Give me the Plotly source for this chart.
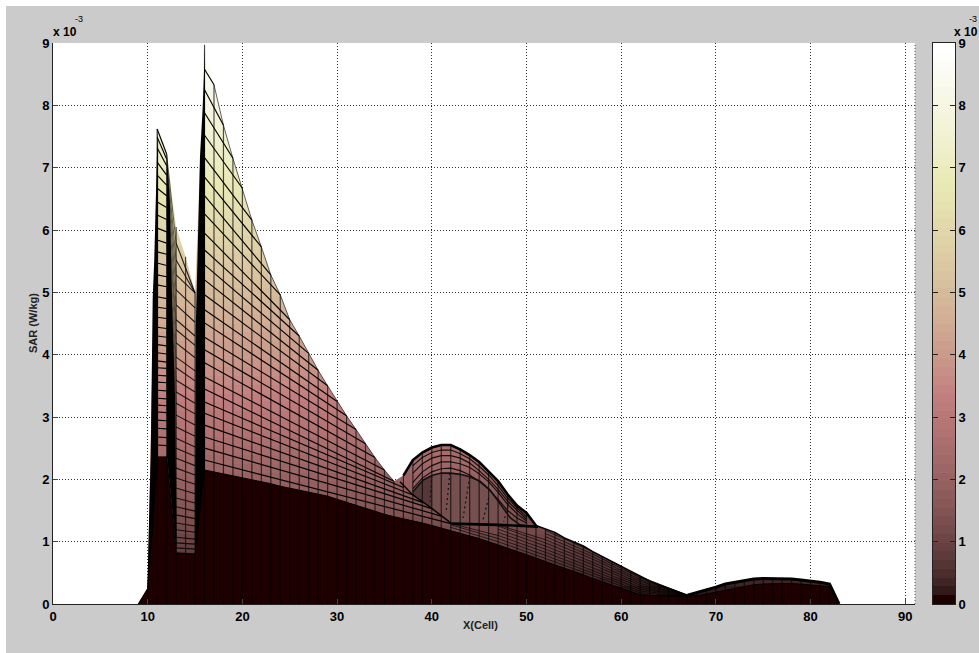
import numpy as np
import plotly.graph_objects as go

# ---- data (SAR in units of 1e-3 W/kg) ----
cells = list(range(9, 84))
top_by_cell = [0, .25, 7.62, 7.22, 6.05, 5.57, 4.99, 8.97, 8.33, 7.68, 7.15, 6.67, 6.16, 5.73, 5.28, 4.96, 4.56,
               4.30, 4.02, 3.75, 3.50, 3.25, 3.02, 2.80, 2.57, 2.35, 2.15, 1.97, 2.06, 2.31, 2.43, 2.51, 2.55,
               2.55, 2.48, 2.39, 2.28, 2.13, 1.97, 1.76, 1.58, 1.46, 1.26, 1.20, 1.15, 1.06, 1.00, .93, .84, .76,
               .68, .60, .52, .44, .37, .31, .25, .19, .14, .18, .22, .27, .32, .35, .38, .40, .41, .41, .41,
               .40, .385, .37, .35, .32, 0]
base_by_cell = [0, .25, 2.36, 2.36, .81, .80, .80, 2.15, 2.12, 2.09, 2.05, 2.02, 1.99, 1.96, 1.93, 1.89, 1.86,
                1.83, 1.80, 1.76, 1.73, 1.68, 1.63, 1.58, 1.53, 1.48, 1.44, 1.40, 1.37, 1.33, 1.30, 1.26, 1.22,
                1.18, 1.14, 1.09, 1.05, 1.00, .95, .90, .85, .79, .74, .68, .63, .57, .52, .47, .41, .36, .31,
                .26, .20, .15, .14, .13, .13, .12, .12, .13, .16, .19, .23, .26, .29, .31, .32, .33, .33, .33,
                .32, .31, .30, .28, 0]

# mesh rows of the large lobe: value at cell 16, then where each row meets the outline
lobe_start = [8.58, 8.25, 7.88, 7.52, 7.16, 6.85, 6.55, 6.26, 5.95, 5.68, 5.44, 5.20, 4.96, 4.72, 4.51, 4.28,
              4.08, 3.87, 3.64, 3.45, 3.24, 3.06, 2.87, 2.68, 2.50, 2.31]
lobe_end_cell = list(range(17, 43))
lobe_end = [8.33, 7.68, 7.15, 6.67, 6.16, 5.73, 5.28, 4.96, 4.56, 4.30, 4.02, 3.75, 3.50, 3.25, 3.02, 2.80, 2.57,
            2.35, 2.15, 1.97, 1.87, 1.75, 1.63, 1.53, 1.41, 1.29]

# mesh rows of the small lobe, at cells 11 and 12
small_11 = [7.62, 7.49, 7.32, 7.09, 6.88, 6.67, 6.45, 6.24, 6.03, 5.84, 5.65, 5.47, 5.28, 5.12, 4.93, 4.76, 4.60,
            4.44, 4.30, 4.16, 4.03, 3.90, 3.79, 3.67, 3.56, 3.43, 3.30, 3.19, 3.08, 2.95, 2.82, 2.68, 2.55]
small_12 = [7.22, 7.14, 7.03, 6.88, 6.72, 6.55, 6.36, 6.17, 5.97, 5.79, 5.61, 5.43, 5.25, 5.09, 4.90, 4.74, 4.58,
            4.42, 4.28, 4.14, 4.01, 3.88, 3.78, 3.66, 3.55, 3.42, 3.29, 3.18, 3.07, 2.94, 2.81, 2.67, 2.54]
# trough rows, at cells 13 and 15
trough_13 = [5.79, 5.52, 5.28, 5.04, 4.80, 4.56, 4.40, 4.19, 3.96, 3.79, 3.59, 3.40, 3.22, 3.03, 2.84, 2.66, 2.50,
             2.34, 2.18, 2.02, 1.86, 1.70, 1.56, 1.43, 1.30, 1.19, 1.07, .98, .90, .82]
trough_15 = [4.99, 4.99, 4.99, 4.75, 4.52, 4.30, 4.15, 3.95, 3.74, 3.58, 3.40, 3.22, 3.05, 2.87, 2.69, 2.52, 2.37,
             2.22, 2.07, 1.92, 1.77, 1.62, 1.49, 1.37, 1.25, 1.15, 1.04, .96, .88, .80]

# thin rows under the hump
tail_cells = [42, 47, 52, 57, 62, 67]
tail_1 = [1.23, 1.00, .73, .46, .18, .12]
tail_2 = [1.27, 1.05, .78, .50, .21, .125]
tail_3 = [1.29, 1.10, .83, .54, .24, .13]
tail_4 = [None, 1.15, .88, .58, .27, .13]
tail_5 = [None, 1.20, .93, .63, .30, .135]
tail_6 = [None, 1.25, .98, .67, .33, .135]
tail_7 = [None, 1.27, 1.03, .72, .36, .14]
tail_8 = [None, None, 1.08, .76, .39, .14]
tail_9 = [None, None, 1.13, .80, .42, .14]
tail_10 = [None, None, 1.18, .84, .44, .14]

# the hump near cell 42
hump_cells = [38, 39, 40, 41, 42, 43, 44, 45, 46, 47, 48, 49, 50]
hump_2 = [2.22, 2.35, 2.43, 2.47, 2.47, 2.41, 2.33, 2.21, 2.07, 1.90, 1.70, 1.54, 1.40]
hump_3 = [2.10, 2.25, 2.34, 2.38, 2.38, 2.34, 2.26, 2.14, 2.00, 1.84, 1.65, 1.50, 1.36]
hump_4 = [1.95, 2.12, 2.22, 2.28, 2.28, 2.25, 2.19, 2.09, 1.96, 1.79, 1.60, 1.45, 1.33]
hump_5 = [1.85, 2.02, 2.12, 2.17, 2.18, 2.14, 2.07, 1.97, 1.84, 1.68, 1.50, 1.38, 1.30]
inner_x = [38, 39.1, 40, 41, 42, 43, 44, 45.1, 46.15, 47.2, 48.3, 49.3, 51.2, 42.1, 40, 38]
inner_z = [1.80, 1.99, 2.06, 2.10, 2.10, 2.08, 2.04, 1.97, 1.83, 1.62, 1.38, 1.27, 1.24, 1.29, 1.535, 1.75]
inner_dark_x = [38, 39.1, 40, 40, 38]
inner_dark_z = [1.80, 1.99, 2.06, 1.535, 1.75]
sheet_x = [36.64, 38, 40, 42.1]
sheet_z = [1.96, 1.75, 1.535, 1.29]
shelf_x = [42.1, 47, 51.2]
shelf_z = [1.29, 1.27, 1.24]
hump_dots_top_x = [40.0, 41.9, 44.0, 46.0, 48.3]
hump_dots_top_z = [2.06, 2.10, 2.04, 1.70, 1.72]
hump_dots_end_x = [39.8, 41.5, 43.3, 45.4, 47.6]
hump_dots_end_z = [1.64, 1.46, 1.38, 1.35, 1.32]

# black folds where the rows pile up
fold_a_x = [11.05, 10.88, 10.7, 10.53, 10.32, 9.96, 10.1, 11.1, 11.1]
fold_a_z = [7.62, 6.52, 5.55, 4.92, 2.36, .25, .25, 2.36, 7.45]
fold_b_x = [12.04, 12.35, 12.57, 12.88, 13.06, 12.57, 12.04, 12.0]
fold_b_z = [7.22, 6.40, 4.88, 3.35, .82, 1.51, 2.36, 4.40]
fold_c_x = [16.05, 15.81, 15.52, 15.31, 15.17, 15.07, 15.0, 15.2, 16.05, 16.05]
fold_c_z = [8.97, 7.97, 7.17, 6.0, 4.93, 4.40, .80, 1.07, 2.15, 4.40]

x_ticks = [0, 10, 20, 30, 40, 50, 60, 70, 80, 90]
y_ticks = [0, 1, 2, 3, 4, 5, 6, 7, 8, 9]
x_title = "X(Cell)"
y_title = "SAR (W/kg)"
exponent = "x 10"
exponent_power = "-3"

# ---- MATLAB "pink" colormap ----
M = 64
grey = np.arange(M) / (M - 1)
hot_r = np.minimum(np.arange(1, M + 1) / 24, 1)
hot_g = np.clip((np.arange(1, M + 1) - 24) / 24, 0, 1)
hot_b = np.clip((np.arange(1, M + 1) - 48) / 16, 0, 1)
rgb = [np.sqrt((2 * grey + c) / 3) for c in (hot_r, hot_g, hot_b)]
cols = ["rgb(%d,%d,%d)" % tuple(round(255 * c[i]) for c in rgb) for i in range(M)]
scale = []
for i in range(M):
    scale += [[i / M, cols[i]], [(i + 1) / M, cols[i]]]

# ---- page geometry ----
FONT = "Liberation Sans Narrow, Liberation Sans, Arial"
PAGE_L, PAGE_T = 6, 6
FIG_W, FIG_H = 973, 647
AX_L, AX_R, AX_T, AX_B = 53, 955, 43, 604


def px(x):
    return (x - AX_L) / (AX_R - AX_L)


def py(y):
    return (AX_B - y) / (AX_B - AX_T)


fig = go.Figure()


def fill(x, z, color):
    fig.add_trace(go.Scatter(x=x, y=z, mode="lines", fill="toself", fillcolor=color,
                             line=dict(width=0), hoverinfo="skip", showlegend=False))


def lines(segments, color="#000000", width=1, dash="solid"):
    xs, zs = [], []
    for sx, sz in segments:
        xs += list(sx) + [None]
        zs += list(sz) + [None]
    fig.add_trace(go.Scatter(x=xs, y=zs, mode="lines", line=dict(color=color, width=width, dash=dash),
                             hoverinfo="skip", showlegend=False, connectgaps=False))


# surface outline, coloured by height
fig.add_trace(go.Scatter(
    x=cells + [83, 9], y=top_by_cell + [0, 0], mode="lines", fill="toself",
    line=dict(width=0), hoverinfo="skip", showlegend=False,
    fillgradient=dict(type="vertical", colorscale=scale, start=0, stop=9)))
# dark wall
fill(cells + [83, 9], base_by_cell + [0, 0], cols[0])
# inner faces of the hump
fill(inner_x, inner_z, "#75504f")
fill(inner_dark_x, inner_dark_z, "#573838")

# columns
surface_cols = [([c, c], [b, t]) for c, b, t in zip(cells, base_by_cell, top_by_cell) if c >= 11]
wall_cols = [([c, c], [0, b]) for c, b in zip(cells, base_by_cell)]
lines(surface_cols, "rgba(0,0,0,0.68)", 1.2)
lines(wall_cols, "rgba(0,0,0,0.6)", 1)

# rows
lines([([16, e], [s, z]) for s, e, z in zip(lobe_start, lobe_end_cell, lobe_end)], "#000000", 1.15)
lines([([11, 12], [a, b]) for a, b in zip(small_11, small_12)], "#000000", 1.15)
lines([([12, 13], [a, b]) for a, b in zip(small_12, trough_13)], "rgba(40,40,30,0.7)", 1)
lines([([13, 15], [a, b]) for a, b in zip(trough_13, trough_15)], "rgba(0,0,0,0.85)", 1.1)
tails = [tail_1, tail_2, tail_3, tail_4, tail_5, tail_6, tail_7, tail_8, tail_9, tail_10]
lines([(tail_cells, t) for t in tails], "rgba(0,0,0,0.65)", 1)
lines([(hump_cells, h) for h in (hump_2, hump_3, hump_4, hump_5)], "rgba(0,0,0,0.85)", 1.2)
lines([(inner_x[:13], inner_z[:13])], "#111111", 1.6)
lines([([a, b], [c, d]) for a, b, c, d in zip(hump_dots_top_x, hump_dots_end_x, hump_dots_top_z, hump_dots_end_z)],
      "#111111", 1.2, "2px,3px")

# folds
fill(fold_a_x, fold_a_z, "#000000")
fill(fold_b_x, fold_b_z, "#000000")
fill(fold_c_x, fold_c_z, "#000000")

# strong edges
lines([(cells, base_by_cell)], "#000000", 1)
lines([(cells[28:43], top_by_cell[28:43])], "#000000", 2.6)
lines([(sheet_x, sheet_z)], "#000000", 1.4)
lines([(shelf_x, shelf_z)], "#000000", 2.6)
lines([(cells[8:28], top_by_cell[8:28])], "rgba(0,0,0,0.6)", 1)
lines([(cells[42:59], top_by_cell[42:59])], "#000000", 1.5)
lines([(cells[58:], top_by_cell[58:])], "#000000", 3)

# colour bar
bar_levels = [[(i + .5) * 9 / M] for i in range(M)]
fig.add_trace(go.Heatmap(z=bar_levels, x=[.5], y=[v[0] for v in bar_levels], xaxis="x2", yaxis="y2",
                         colorscale=scale, zmin=0, zmax=9, showscale=False, hoverinfo="skip"))

axis_font = dict(family=FONT, size=13, color="#000000", weight="bold")
title_font = dict(family="Liberation Sans, Arial", size=11, color="#222222", weight="bold")
exp_font = dict(family=FONT, size=12, color="#000000", weight="bold")
pow_font = dict(family=FONT, size=9, color="#000000")
dot = "1px,2px"
fig.update_layout(
    width=FIG_W, height=FIG_H, autosize=False,
    margin=dict(l=AX_L - PAGE_L, r=PAGE_L + FIG_W - AX_R, t=AX_T - PAGE_T, b=PAGE_T + FIG_H - AX_B, pad=0),
    paper_bgcolor="#cbcbcb", plot_bgcolor="#ffffff",
    font=dict(family=FONT),
    xaxis=dict(domain=[0, px(915)], range=[0, 862 / 9.47], tickvals=x_ticks, ticks="inside", ticklen=5,
               tickcolor="#444444", tickfont=axis_font, showgrid=True, gridcolor="#333333", griddash=dot,
               gridwidth=1, zeroline=False, showline=True, linecolor="#222222", linewidth=1, automargin=False),
    yaxis=dict(domain=[0, 1], range=[0, 9], tickvals=y_ticks, ticks="inside", ticklen=5,
               tickcolor="#444444", tickfont=axis_font, showgrid=True, gridcolor="#333333", griddash=dot,
               gridwidth=1, zeroline=False, showline=True, linecolor="#222222", linewidth=1, automargin=False),
    xaxis2=dict(domain=[px(933), 1], range=[0, 1], anchor="y2", showticklabels=False, ticks="", showgrid=False,
                zeroline=False, showline=True, mirror=True, linecolor="#222222", linewidth=1, automargin=False),
    yaxis2=dict(domain=[0, 1], range=[0, 9], anchor="x2", side="right", tickvals=y_ticks, ticks="inside",
                ticklen=5, tickcolor="#222222", tickfont=axis_font, showgrid=False, zeroline=False,
                showline=True, mirror="ticks", linecolor="#222222", linewidth=1, automargin=False),
    shapes=[dict(type="line", xref="paper", yref="paper", x0=px(915), x1=px(915), y0=0, y1=1, layer="below",
                 line=dict(color="#555555", width=1, dash=dot))],
    annotations=[
        dict(text=x_title, xref="paper", yref="paper", x=px(480), y=py(625), xanchor="center", yanchor="middle",
             showarrow=False, font=title_font),
        dict(text=y_title, xref="paper", yref="paper", x=px(33), y=py(323), xanchor="center", yanchor="middle",
             textangle=-90, showarrow=False, font=title_font),
        dict(text=exponent, xref="paper", yref="paper", x=px(51), y=py(41), xanchor="left", yanchor="bottom",
             showarrow=False, font=exp_font),
        dict(text=exponent_power, xref="paper", yref="paper", x=px(73), y=py(26), xanchor="left",
             yanchor="bottom", showarrow=False, font=pow_font),
        dict(text=exponent, xref="paper", yref="paper", x=px(952), y=py(41), xanchor="left", yanchor="bottom",
             showarrow=False, font=exp_font),
        dict(text=exponent_power, xref="paper", yref="paper", x=px(979), y=py(26), xanchor="right",
             yanchor="bottom", showarrow=False, font=pow_font),
    ],
)

fig.write_html("out.html", post_script="document.body.style.margin='%dpx 0 0 %dpx';"
               "document.body.style.overflow='hidden';document.body.style.background='#ffffff';" % (PAGE_T, PAGE_L))
